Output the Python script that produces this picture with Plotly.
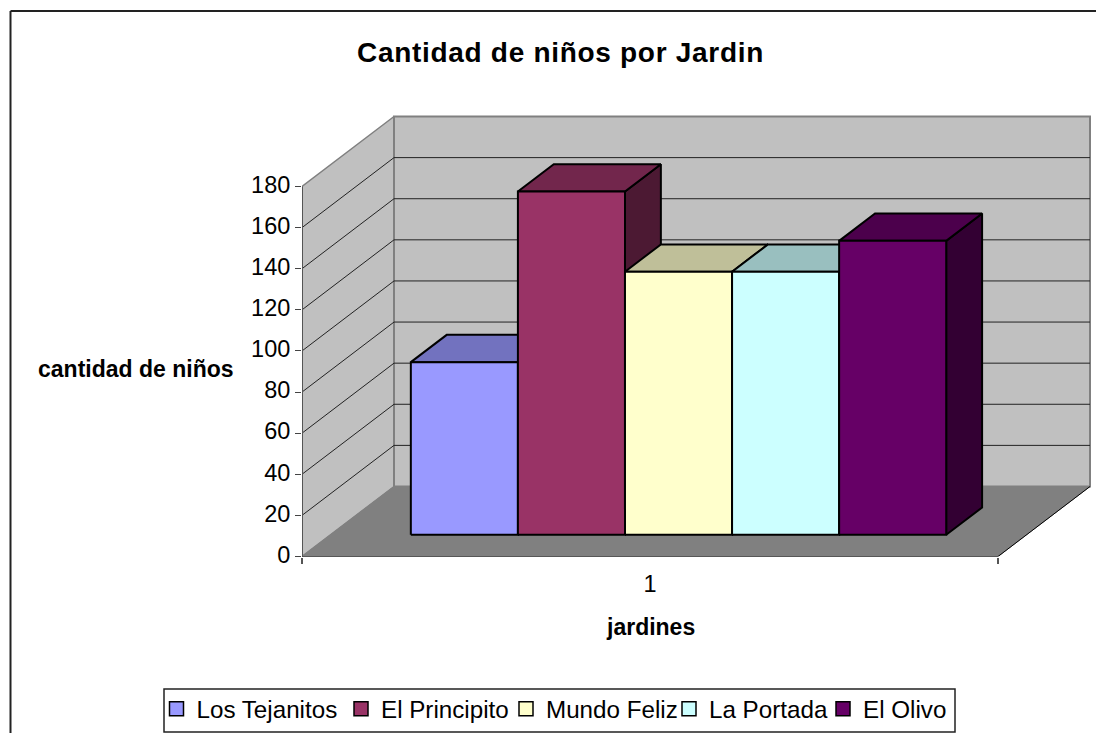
import plotly.graph_objects as go

# ---- data ----
series_names = ["Los Tejanitos", "El Principito", "Mundo Feliz", "La Portada", "El Olivo"]
series_values = [84, 167, 128, 128, 143]
series_colors = ["#9999FF", "#993366", "#FFFFCC", "#CCFFFF", "#660066"]
y_ticks = [0, 20, 40, 60, 80, 100, 120, 140, 160, 180]
category = 1
title_text = "Cantidad de niños por Jardin"
y_title = "cantidad de niños"
x_title = "jardines"

# ---- layout constants ----
W, H = 1096, 733
X_L, X_R, Y_B, Y_T = 302, 998, 556.5, 186.5     # front plane in pixels
DEPTH_X, DEPTH_Y = 92, 70                        # oblique depth in pixels
sx = X_R - X_L                                    # px per category
sy = (Y_B - Y_T) / max(y_ticks)                   # px per value
AX_R, AX_T = 1094, 112
DX, DY = DEPTH_X / sx, DEPTH_Y / sy               # depth vector in data units
Z0, Z1 = 0.31, 0.70                               # bar depth extent
GAP = 1.5
bar_w = 1 / (len(series_values) + GAP)
x_lo, x_hi = category - 0.5, category + 0.5


def P(x, v, z):
    return x + z * DX, v + z * DY


def poly(points):
    xs, ys = zip(*[P(*p) for p in points])
    return list(xs), list(ys)


def shade(color, f):
    c = color.lstrip("#")
    r, g, b = int(c[0:2], 16), int(c[2:4], 16), int(c[4:6], 16)
    return f"rgb({int(r*f)},{int(g*f)},{int(b*f)})"


def px(x):
    return x / W


def py(y):
    return 1 - y / H


fig = go.Figure()


def add_face(points, fill, line, width, name=None):
    xs, ys = poly(points)
    fig.add_trace(go.Scatter(x=xs, y=ys, mode="lines", fill="toself" if fill else None,
                             fillcolor=fill, line=dict(color=line, width=width),
                             showlegend=False, hoverinfo="skip" if name is None else "name",
                             name=name, cliponaxis=False))


top = max(y_ticks)
# walls and floor
add_face([(x_lo, 0, 0), (x_lo, top, 0), (x_lo, top, 1), (x_lo, 0, 1), (x_lo, 0, 0)], "#C0C0C0", "#808080", 1.5)
add_face([(x_lo, 0, 1), (x_lo, top, 1), (x_hi, top, 1), (x_hi, 0, 1), (x_lo, 0, 1)], "#C0C0C0", "#808080", 2)
add_face([(x_lo, 0, 0), (x_hi, 0, 0), (x_hi, 0, 1), (x_lo, 0, 1), (x_lo, 0, 0)], "#808080", "#808080", 1)
# gridlines
for t in y_ticks[1:-1]:
    add_face([(x_lo, t, 0), (x_lo, t, 1), (x_hi, t, 1)], None, "#222222", 1)
# floor front edges and value axis
add_face([(x_lo, 0, 0), (x_hi, 0, 0), (x_hi, 0, 1)], None, "#000000", 1)
add_face([(x_lo, 0, 0), (x_lo, top, 0)], None, "#555555", 2)

# bars
for i, (n, v, c) in enumerate(zip(series_names, series_values, series_colors)):
    a = category - len(series_values) * bar_w / 2 + i * bar_w
    b = a + bar_w
    add_face([(b, 0, Z0), (b, 0, Z1), (b, v, Z1), (b, v, Z0), (b, 0, Z0)], shade(c, 0.5), "#000000", 2)
    add_face([(a, v, Z0), (a, v, Z1), (b, v, Z1), (b, v, Z0), (a, v, Z0)], shade(c, 0.75), "#000000", 2)
    add_face([(a, 0, Z0), (a, v, Z0), (b, v, Z0), (b, 0, Z0), (a, 0, Z0)], c, "#000000", 2, n)

# legend: one small legend per entry to keep the reference spacing
legend_swatch_px = [180.5, 365, 530, 693, 847]
legend_layout = {}
LEG_SHIFT = 4
for i, (n, c) in enumerate(zip(series_names, series_colors)):
    key = "legend" if i == 0 else f"legend{i+1}"
    fig.add_trace(go.Scatter(x=[None], y=[None], mode="markers", name=n, legend=key,
                             marker=dict(symbol="square", size=14, color=c,
                                         line=dict(color="#000000", width=1.5))))
    legend_layout[key] = dict(x=px(legend_swatch_px[i] - 20 - LEG_SHIFT), xanchor="left",
                              y=py(709), yanchor="middle", bgcolor="rgba(0,0,0,0)",
                              borderwidth=0, font=dict(size=24.2, color="#000000"))

FONT = "Liberation Sans, Arial, sans-serif"
fig.update_layout(
    width=W, height=H, margin=dict(l=0, r=0, t=0, b=0, autoexpand=False),
    paper_bgcolor="white", plot_bgcolor="rgba(0,0,0,0)",
    font=dict(family=FONT, color="#000000"),
    title=dict(text=f"<b>{title_text}</b>", x=px(560.5), xanchor="center", xref="paper",
               y=py(52), yanchor="middle", yref="paper", font=dict(size=28)),
    xaxis=dict(domain=[px(X_L), px(AX_R)],
               range=[x_lo, x_lo + (AX_R - X_L) / sx],
               tickvals=[category], ticktext=[str(category)], ticks="outside", ticklen=6,
               tickcolor="rgba(0,0,0,0)", tickfont=dict(size=23.5), showgrid=False, zeroline=False,
               showline=False,
               minor=dict(tickvals=[x_lo, x_hi], ticks="outside", ticklen=6, tickcolor="#555555",
                          tickwidth=2, showgrid=False)),
    yaxis=dict(domain=[py(Y_B), py(AX_T)],
               range=[0, (Y_B - AX_T) / sy],
               tickvals=y_ticks, ticks="outside", ticklen=6, tickcolor="#444444", tickwidth=1,
               ticklabelshift=-2,
               tickfont=dict(size=23.5), showgrid=False, zeroline=False, showline=False),
    annotations=[
        dict(text=f"<b>{y_title}</b>", xref="paper", yref="paper", x=px(135.5), y=py(369),
             xanchor="center", yanchor="middle", showarrow=False, font=dict(size=23)),
        dict(text=f"<b>{x_title}</b>", xref="x", yref="paper", x=category, y=py(627),
             xanchor="center", yanchor="middle", showarrow=False, font=dict(size=23)),
    ],
    shapes=[
        dict(type="line", xref="paper", yref="paper", x0=px(10.5), y0=py(11), x1=px(W), y1=py(11),
             line=dict(color="#222222", width=2)),
        dict(type="line", xref="paper", yref="paper", x0=px(10.5), y0=py(11), x1=px(10.5), y1=py(H),
             line=dict(color="#222222", width=2)),
        dict(type="rect", xref="paper", yref="paper", x0=px(164), y0=py(689), x1=px(955), y1=py(732),
             line=dict(color="#222222", width=1.5), layer="below"),
    ],
    **legend_layout,
)

post = """
document.body.style.margin = '0';
var gd = document.getElementById('{plot_id}');
function spaceText() {
  gd.querySelectorAll('.gtitle').forEach(function (t) { t.style.letterSpacing = '0.7px'; });
}
gd.on('plotly_afterplot', spaceText);
spaceText();
"""
fig.write_html("out.html", config={"displayModeBar": False}, post_script=post)
